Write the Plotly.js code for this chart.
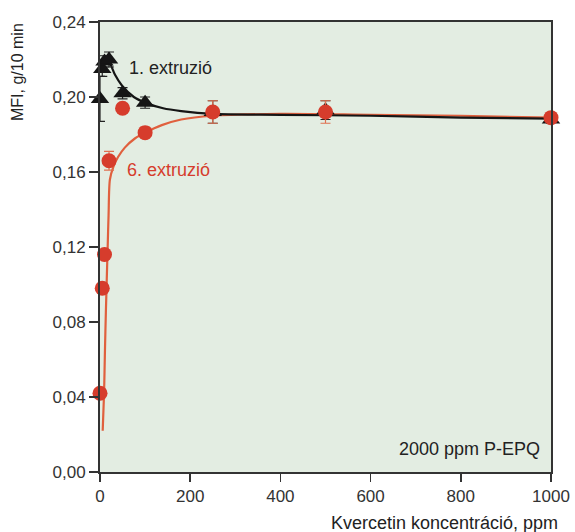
<!DOCTYPE html>
<html>
<head>
<meta charset="utf-8">
<script src="https://cdn.plot.ly/plotly-3.0.1.min.js"></script>
<style>html,body{margin:0;padding:0;background:#fff;}</style>
</head>
<body>
<div id="chart" style="width:575px;height:532px;"></div>
<script>
// Measured points
const xBlack = [0, 5, 10, 20, 50, 100, 250, 500, 1000];
const yBlack = [0.199, 0.215, 0.219, 0.220, 0.202, 0.197, 0.192, 0.193, 0.188];
const eBlack = [0.012, 0.004, 0.003, 0.004, 0.003, 0.003, 0.006, 0.005, 0.002];

const xRed = [0, 5, 10, 20, 50, 100, 250, 500, 1000];
const yRed = [0.042, 0.098, 0.116, 0.166, 0.194, 0.181, 0.192, 0.192, 0.189];
const eRed = [0.003, 0.002, 0.002, 0.005, 0.002, 0.003, 0.006, 0.006, 0.002];

// Fitted curves
const xBlackFit = [9, 22, 33, 49, 75, 100, 140, 180, 250, 400, 600, 800, 1000];
const yBlackFit = [0.222, 0.218, 0.212, 0.206, 0.200, 0.197, 0.194, 0.1925, 0.191, 0.1905, 0.190, 0.189, 0.1885];

const xRedFit = [6, 9, 11, 13, 15, 17, 19, 22, 30, 40, 55, 78, 100, 137, 180, 250, 400, 600, 800, 1000];
const yRedFit = [0.022, 0.042, 0.065, 0.085, 0.103, 0.120, 0.137, 0.156, 0.163, 0.168, 0.173, 0.178, 0.181, 0.185, 0.188, 0.190, 0.191, 0.1905, 0.190, 0.189];

const xTicks = [0, 200, 400, 600, 800, 1000];
const yTicks = [0, 0.04, 0.08, 0.12, 0.16, 0.20, 0.24];

const labelBlack = "1. extruzió";
const labelRed = "6. extruzió";
const noteText = "2000 ppm P-EPQ";
const xTitle = "Kvercetin koncentráció, ppm";
const yTitle = "MFI, g/10 min";

const redMarker = '#d63c2c';
const redLine = '#e0603e';
const blackCol = '#151515';

const traces = [
  {
    x: xRedFit, y: yRedFit, mode: 'lines', type: 'scatter',
    line: {color: redLine, width: 2.2, shape: 'spline', smoothing: 0.8},
    hoverinfo: 'skip', cliponaxis: false
  },
  {
    x: xBlackFit, y: yBlackFit, mode: 'lines', type: 'scatter',
    line: {color: blackCol, width: 2.2, shape: 'spline', smoothing: 0.8},
    hoverinfo: 'skip', cliponaxis: false
  },
  {
    x: xBlack, y: yBlack, mode: 'markers', type: 'scatter',
    marker: {symbol: 'triangle-up', size: 16, color: blackCol},
    error_y: {type: 'data', array: eBlack, visible: true, color: '#222', thickness: 1.2, width: 5},
    cliponaxis: false
  },
  {
    x: xRed, y: yRed, mode: 'markers', type: 'scatter',
    marker: {symbol: 'circle', size: 15, color: redMarker},
    error_y: {type: 'data', array: eRed, visible: true, color: '#e07050', thickness: 1.2, width: 5},
    cliponaxis: false
  }
];

const layout = {
  width: 575, height: 532,
  margin: {l: 100, r: 24, t: 22, b: 60},
  paper_bgcolor: '#ffffff',
  plot_bgcolor: '#e3ede2',
  showlegend: false,
  separators: ', ',
  font: {family: 'Liberation Sans, Arial, sans-serif', color: '#333'},
  xaxis: {
    range: [0, 1000], tickvals: xTicks, ticks: 'outside', ticklen: 8, tickwidth: 1.5,
    tickcolor: '#333', showline: true, linecolor: '#333', linewidth: 2, mirror: true,
    showgrid: false, zeroline: false, tickfont: {size: 17, color: '#333'}
  },
  yaxis: {
    range: [0, 0.24], tickvals: yTicks, tickformat: '.2f', ticks: 'outside', ticklen: 9, tickwidth: 1.5,
    tickcolor: '#333', showline: true, linecolor: '#333', linewidth: 2, mirror: true,
    showgrid: false, zeroline: false, tickfont: {size: 17, color: '#333'}
  },
  annotations: [
    {text: labelBlack, xref: 'paper', yref: 'paper', x: (127-100)/451, y: (472-68)/450,
     xanchor: 'left', yanchor: 'middle', showarrow: false, font: {size: 18, color: '#222'}},
    {text: labelRed, xref: 'paper', yref: 'paper', x: (125-100)/451, y: (472-170)/450,
     xanchor: 'left', yanchor: 'middle', showarrow: false, font: {size: 18, color: '#d63c2c'}},
    {text: noteText, xref: 'paper', yref: 'paper', x: (542-100)/451, y: (472-449)/450,
     xanchor: 'right', yanchor: 'middle', showarrow: false, font: {size: 18, color: '#222'}},
    {text: xTitle, xref: 'paper', yref: 'paper', x: (560-100)/451, y: (472-523)/450,
     xanchor: 'right', yanchor: 'middle', showarrow: false, font: {size: 18, color: '#222'}},
    {text: yTitle, xref: 'paper', yref: 'paper', x: (17-100)/451, y: (472-72)/450,
     xanchor: 'center', yanchor: 'middle', textangle: -90, showarrow: false, font: {size: 16, color: '#222'}}
  ]
};

Plotly.newPlot('chart', traces, layout, {displayModeBar: false, staticPlot: true});
</script>
</body>
</html>
